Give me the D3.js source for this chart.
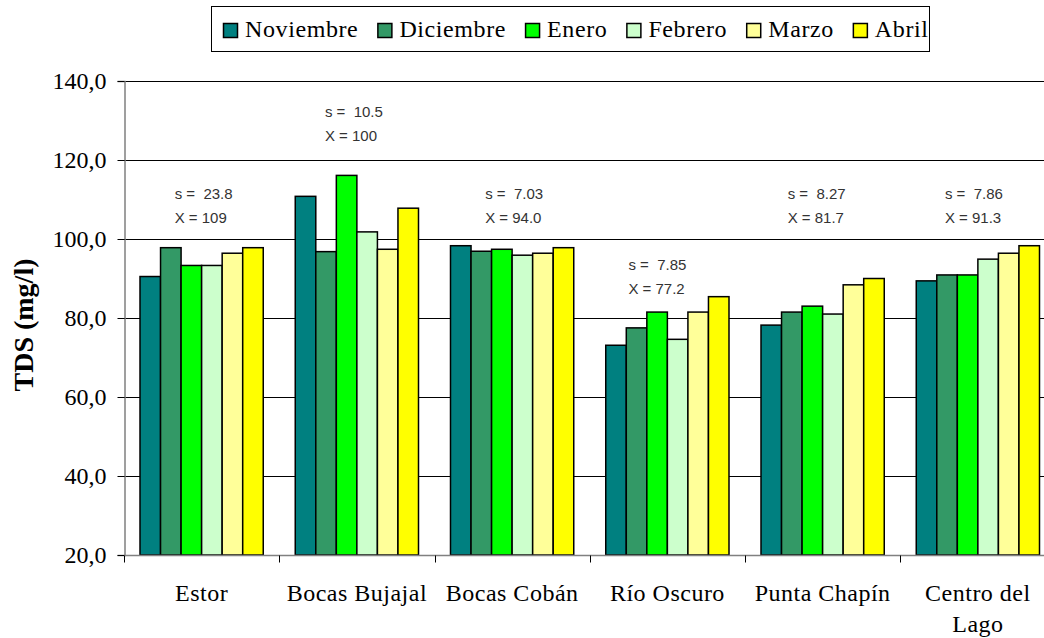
<!DOCTYPE html>
<html>
<head>
<meta charset="utf-8">
<script src="https://cdn.jsdelivr.net/npm/d3@7"></script>
<style>
  html, body { margin: 0; padding: 0; background: #fff; }
  svg { display: block; }
  .serif { font-family: "Liberation Serif", "Times New Roman", Times, serif; }
  .note { font-family: "Liberation Sans", Arial, sans-serif; font-size: 15px; fill: #333; white-space: pre; }
</style>
</head>
<body>
<svg id="chart" width="1044" height="638"></svg>
<script>
// Sampling sites along the lake
const categories = ["Estor", "Bocas Bujajal", "Bocas Cobán", "Río Oscuro", "Punta Chapín", "Centro del Lago"];
// Sampling months (series)
const months = ["Noviembre", "Diciembre", "Enero", "Febrero", "Marzo", "Abril"];
// TDS (mg/l) per month, one value per site
const noviembre = [90.5, 110.8, 98.3, 73.1, 78.2, 89.4];
const diciembre = [97.8, 96.8, 96.9, 77.5, 81.5, 90.9];
const enero     = [93.3, 116.1, 97.4, 81.5, 83.0, 90.9];
const febrero   = [93.3, 101.8, 95.9, 74.6, 81.0, 94.9];
const marzo     = [96.4, 97.4, 96.4, 81.5, 88.4, 96.4];
const abril     = [97.8, 107.8, 97.8, 85.4, 90.0, 98.3];
// Summary statistics printed above each site
const sdText   = ["23.8", "10.5", "7.03", "7.85", "8.27", "7.86"];
const meanText = ["109", "100", "94.0", "77.2", "81.7", "91.3"];
// Y axis ticks
const yTicks = [20, 40, 60, 80, 100, 120, 140];

const seriesValues = [noviembre, diciembre, enero, febrero, marzo, abril];
const colors = ["#008080", "#339966", "#00ff00", "#ccffcc", "#ffff99", "#ffff00"];

// Placement of the statistics notes: baseline of first line (in axis units), x shift from site centre
const noteAnchor = [
  { y: 110.1, dx: -27 },
  { y: 130.9, dx: -32 },
  { y: 110.1, dx: -27 },
  { y: 92.2,  dx: -39 },
  { y: 110.1, dx: -35 },
  { y: 110.1, dx: -33 }
];

const svg = d3.select("#chart");
const plot = { left: 124, right: 1055.5, top: 81, bottom: 555 };

const x0 = d3.scaleBand().domain(categories).range([plot.left, plot.right]).padding(0);
const inner = 16;
const x1 = d3.scaleBand().domain(months).range([inner, x0.bandwidth() - inner]).padding(0);
const y = d3.scaleLinear().domain([20, 140]).range([plot.bottom, plot.top]);

const fmt = v => d3.format(".1f")(v).replace(".", ",");

// Horizontal gridlines
svg.append("g")
  .selectAll("line")
  .data(yTicks.filter(t => t > 20))
  .join("line")
  .attr("x1", plot.left).attr("x2", plot.right)
  .attr("y1", d => Math.round(y(d)) + 0.5).attr("y2", d => Math.round(y(d)) + 0.5)
  .attr("stroke", "#000").attr("stroke-width", 1);

// Bars
const groups = svg.append("g")
  .selectAll("g")
  .data(categories)
  .join("g")
  .attr("transform", d => `translate(${x0(d)},0)`);

groups.selectAll("rect")
  .data((c, ci) => months.map((m, mi) => ({ month: m, mi, value: seriesValues[mi][ci] })))
  .join("rect")
  .attr("x", d => x1(d.month))
  .attr("width", x1.bandwidth())
  .attr("y", d => y(d.value))
  .attr("height", d => y(20) - y(d.value))
  .attr("fill", d => colors[d.mi])
  .attr("stroke", "#000")
  .attr("stroke-width", 1.5);

// Y axis
const yAxis = svg.append("g")
  .attr("transform", `translate(${plot.left + 0.5},0)`)
  .call(d3.axisLeft(y).tickValues(yTicks).tickSize(7).tickPadding(11).tickFormat(fmt));
yAxis.select(".domain").attr("stroke", "#808080").attr("stroke-width", 1.5);
yAxis.selectAll(".tick line").attr("stroke", "#000").attr("stroke-width", 1);
yAxis.selectAll(".tick text")
  .attr("class", "serif")
  .style("font-size", "24px")
  .attr("fill", "#000")
  .attr("dy", "0.33em");

// X axis with ticks between sites
const xAxisG = svg.append("g").attr("transform", `translate(0,${plot.bottom + 0.5})`);
xAxisG.append("line")
  .attr("x1", plot.left).attr("x2", plot.right)
  .attr("stroke", "#808080").attr("stroke-width", 1.5);
const boundaries = categories.map(c => x0(c)).concat([plot.right]);
xAxisG.selectAll("line.tk")
  .data(boundaries)
  .join("line")
  .attr("class", "tk")
  .attr("x1", d => Math.round(d) + 0.5).attr("x2", d => Math.round(d) + 0.5)
  .attr("y1", 0).attr("y2", 7)
  .attr("stroke", "#000");

// Category labels, wrapped to the band width
const catLabels = svg.append("g")
  .selectAll("text")
  .data(categories)
  .join("text")
  .attr("class", "serif")
  .attr("x", d => x0(d) + x0.bandwidth() / 2)
  .attr("y", 601)
  .attr("text-anchor", "middle")
  .style("font-size", "24px")
  .style("letter-spacing", "0.5px")
  .attr("fill", "#000");

catLabels.each(function (d) {
  const el = d3.select(this);
  const words = d.split(" ");
  const lines = [];
  let cur = [];
  words.forEach(w => {
    const test = cur.concat([w]).join(" ");
    el.text(test);
    if (this.getComputedTextLength() > 152 && cur.length) {
      lines.push(cur.join(" "));
      cur = [w];
    } else {
      cur.push(w);
    }
  });
  lines.push(cur.join(" "));
  el.text(null);
  lines.forEach((ln, i) => {
    el.append("tspan")
      .attr("x", x0(d) + x0.bandwidth() / 2)
      .attr("dy", i === 0 ? 0 : 31)
      .text(ln);
  });
});

// Y axis title
svg.append("text")
  .attr("class", "serif")
  .attr("transform", "translate(33,325) rotate(-90)")
  .attr("text-anchor", "middle")
  .style("font-size", "28px")
  .style("font-weight", "bold")
  .attr("fill", "#000")
  .text("TDS (mg/l)");

// Statistics notes above each site
const notes = svg.append("g")
  .selectAll("g")
  .data(categories)
  .join("g");
notes.append("text")
  .attr("class", "note")
  .attr("x", (d, i) => x0(d) + x0.bandwidth() / 2 + noteAnchor[i].dx)
  .attr("y", (d, i) => y(noteAnchor[i].y))
  .text((d, i) => "s =  " + sdText[i]);
notes.append("text")
  .attr("class", "note")
  .attr("x", (d, i) => x0(d) + x0.bandwidth() / 2 + noteAnchor[i].dx)
  .attr("y", (d, i) => y(noteAnchor[i].y) + 24)
  .text((d, i) => "X = " + meanText[i]);

// Legend
const legend = svg.append("g");
const legendBox = legend.append("rect")
  .attr("x", 211.5).attr("y", 6.5)
  .attr("height", 45)
  .attr("fill", "#fff")
  .attr("stroke", "#000").attr("stroke-width", 1);
let lx = 223;
months.forEach((m, i) => {
  legend.append("rect")
    .attr("x", lx + 0.5).attr("y", 23.5)
    .attr("width", 14).attr("height", 14)
    .attr("fill", colors[i])
    .attr("stroke", "#000").attr("stroke-width", 1.5);
  const t = legend.append("text")
    .attr("class", "serif")
    .attr("x", lx + 22).attr("y", 37)
    .style("font-size", "24px")
    .style("letter-spacing", "0.6px")
    .attr("fill", "#000")
    .text(m);
  lx = lx + 22 + t.node().getComputedTextLength() + 19;
});
legendBox.attr("width", 929 - 211);
</script>
</body>
</html>
